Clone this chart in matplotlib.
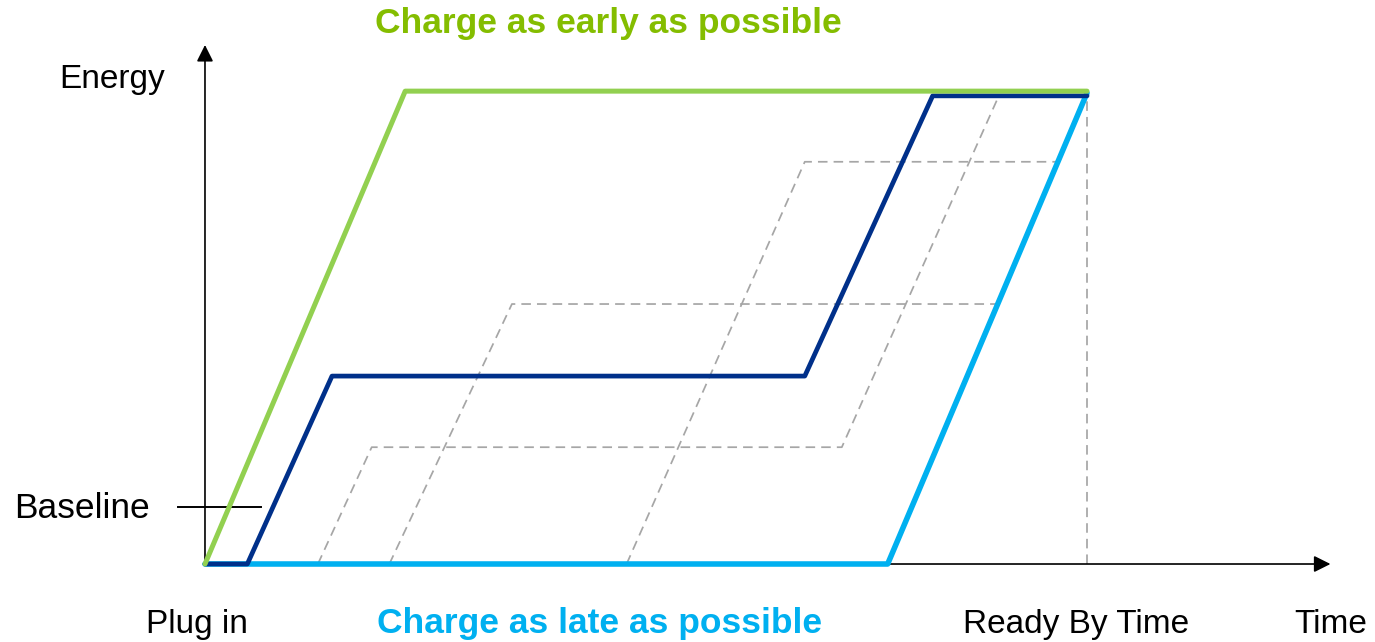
import matplotlib.pyplot as plt

# Charging profiles: time (h after plug-in) vs. energy (% of target)
early_t = [0.0, 2.27, 10.0]
early_e = [0.0, 100.4, 100.4]

smart_t = [0.0, 0.48, 1.44, 6.80, 8.25, 10.0]
smart_e = [0.0, 0.0, 39.9, 39.9, 99.4, 99.4]

late_t = [0.0, 7.74, 10.0]
late_e = [0.0, 0.0, 100.0]

# Other possible schedules between the two extremes
alt_paths = [
    ([1.28, 1.89, 7.22, 9.00, 10.0], [0.0, 24.8, 24.8, 99.4, 99.4]),
    ([2.09, 3.48, 8.99, 10.0], [0.0, 55.2, 55.2, 100.0]),
    ([4.78, 6.80, 9.67, 10.0], [0.0, 85.4, 85.4, 100.0]),
]

READY_BY = 10.0
BASELINE = 12.1

GREEN = '#92d050'
GREEN_TXT = '#84bd00'
NAVY = '#00308a'
CYAN = '#00b0f0'
GRAY = '#a6a6a6'
FONT = 'Liberation Sans'

fig = plt.figure(figsize=(13.75, 6.42), dpi=100)
ax = fig.add_axes([0, 0, 1, 1])
ax.set_xlim(-2.324, 13.265)
ax.set_ylim(-16.56, 119.75)
ax.axis('off')

# dashed alternatives and ready-by marker
dash = (0, (5.5, 3.5))
for t, e in alt_paths:
    ax.plot(t, e, color=GRAY, lw=1.25, ls=dash, zorder=1)
ax.plot([READY_BY, READY_BY], [0, 100], color=GRAY, lw=1.25, ls=dash, zorder=1)

# axes with arrow heads
arrow = dict(arrowstyle='-|>', color='black', lw=1.2, mutation_scale=25,
             shrinkA=0, shrinkB=0)
ax.annotate('', xy=(0, 110.2), xytext=(0, 0), arrowprops=arrow, zorder=2)
ax.annotate('', xy=(12.76, 0), xytext=(0, 0), arrowprops=arrow, zorder=2)

# baseline tick
ax.plot([-0.31, 0.63], [BASELINE, BASELINE], color='black', lw=1.4, zorder=2)

ax.plot(late_t, late_e, color=CYAN, lw=4.0, zorder=3, solid_capstyle='round')
ax.plot(smart_t, smart_e, color=NAVY, lw=3.4, zorder=4, solid_capstyle='round')
ax.plot(early_t, early_e, color=GREEN, lw=3.6, zorder=5, solid_capstyle='round')

# labels
fs = 24
ax.text(-1.05, 101.1, 'Energy', fontsize=fs, family=FONT, ha='center', va='baseline')
ax.text(-0.62, 9.77, 'Baseline', fontsize=25.5, family=FONT, ha='right', va='baseline')
ax.text(-0.09, -14.65, 'Plug in', fontsize=fs, family=FONT, ha='center', va='baseline')
ax.text(9.875, -14.65, 'Ready By Time', fontsize=fs, family=FONT, ha='center', va='baseline')
ax.text(12.76, -14.65, 'Time', fontsize=fs, family=FONT, ha='center', va='baseline')
ax.text(4.57, 112.7, 'Charge as early as possible', fontsize=25.5, family=FONT,
        weight='bold', color=GREEN_TXT, ha='center', va='baseline')
ax.text(4.47, -14.65, 'Charge as late as possible', fontsize=25.5, family=FONT,
        weight='bold', color=CYAN, ha='center', va='baseline')

fig.savefig('out.png', dpi=100, facecolor='white')
